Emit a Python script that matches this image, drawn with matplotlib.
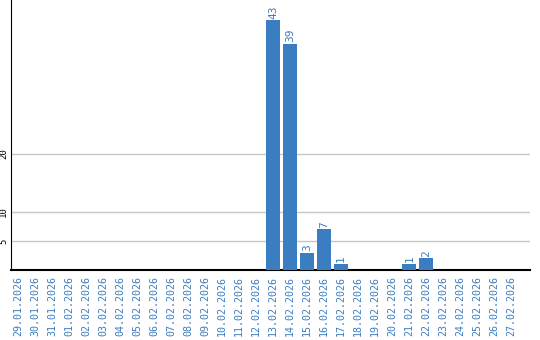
import matplotlib
matplotlib.use("Agg")
import matplotlib.pyplot as plt

dates = ["29.01.2026", "30.01.2026", "31.01.2026"] + [f"{d:02d}.02.2026" for d in range(1, 28)]
counts = [0] * 15 + [43, 39, 3, 7, 1, 0, 0, 0, 1, 2, 0, 0, 0, 0, 0]
yticks = [5, 10, 20]

blue = "#3b7dc1"
fig = plt.figure(figsize=(5.4, 3.4), dpi=100)
ax = fig.add_axes([11 / 540, 70 / 340, 519 / 540, 270 / 340])

x = list(range(len(dates)))
ax.bar(x, counts, width=0.82, color=blue, zorder=3)
for xi, v in zip(x, counts):
    if v > 0:
        ax.text(xi, v + 0.3, str(v), rotation=90, ha="center", va="bottom",
                color=blue, fontsize=8, family="DejaVu Sans Mono")

ax.set_xlim(-0.41, 30.1)
ax.set_ylim(0, 46.5)
ax.set_yticks(yticks)
ax.set_yticklabels([str(t) for t in yticks], rotation=90, va="center",
                   fontsize=6.5, family="DejaVu Sans Mono")
ax.set_xticks(x)
ax.set_xticklabels(dates, rotation=90, fontsize=7.2, color=blue,
                   family="DejaVu Sans Mono")
ax.tick_params(length=0, pad=4)
ax.tick_params(axis="y", pad=2)
ax.grid(axis="y", color="#c8c8c8", linewidth=1, zorder=0)
for s in ("top", "right"):
    ax.spines[s].set_visible(False)
ax.spines["left"].set_color("black")
ax.spines["bottom"].set_color("black")
ax.spines["bottom"].set_linewidth(1.5)

fig.savefig("out.png", dpi=100)
